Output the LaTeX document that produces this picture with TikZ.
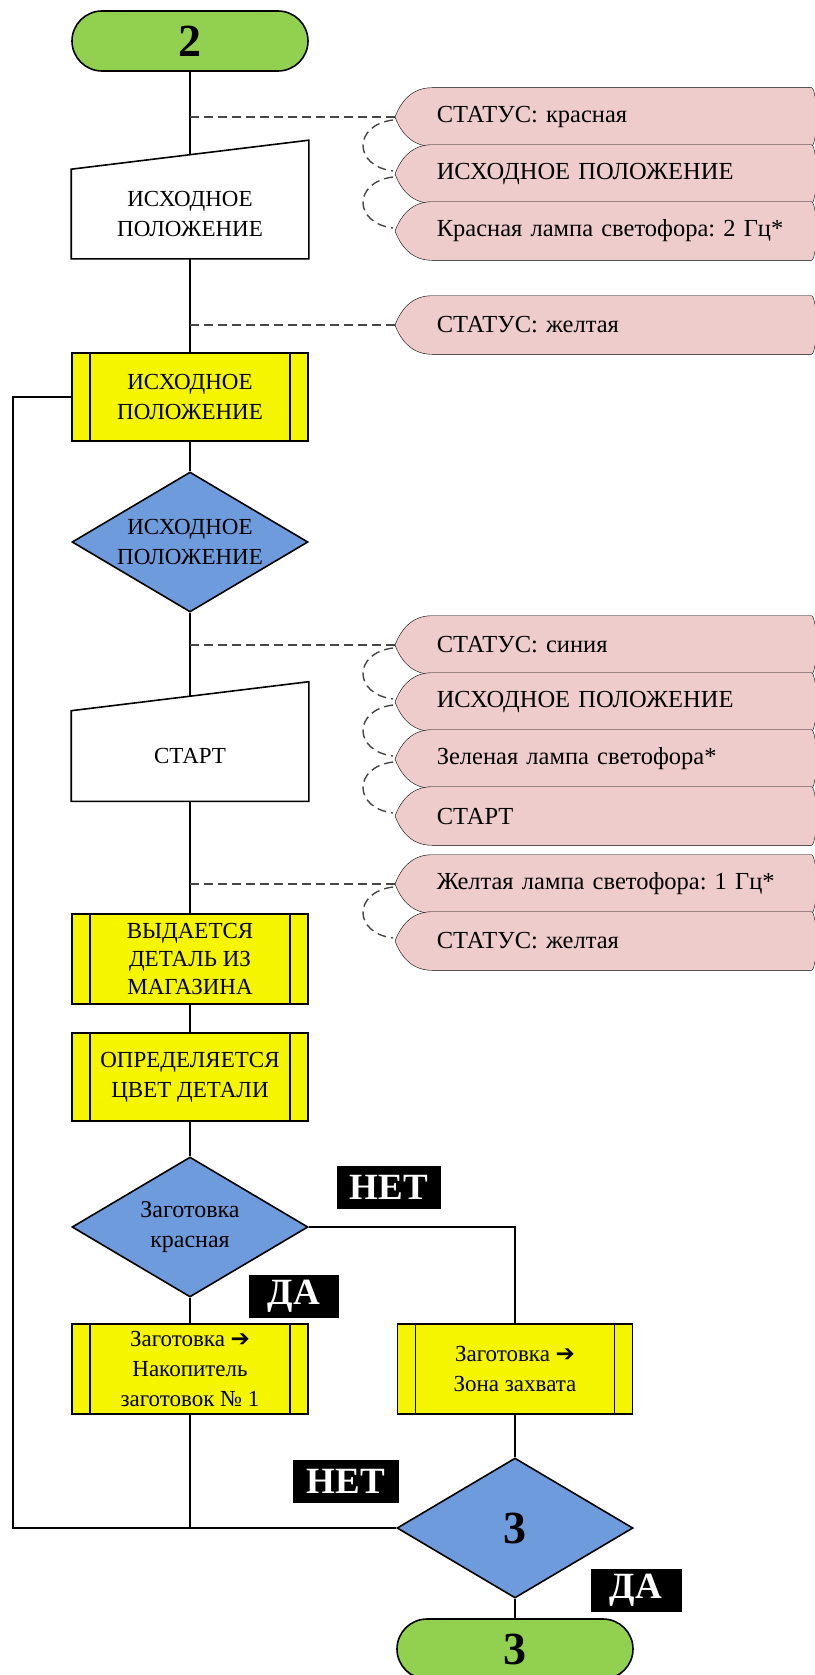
\documentclass[tikz,border=0pt]{standalone}
\usepackage{fontspec}
\setmainfont{Liberation Serif}
\newfontfamily\arrowfont{DejaVu Sans}
\usetikzlibrary{shapes.geometric, backgrounds}
\frenchspacing

\definecolor{termgreen}{RGB}{146,208,80}
\definecolor{procyellow}{RGB}{245,245,0}
\definecolor{decblue}{RGB}{110,155,220}
\definecolor{disppink}{RGB}{237,204,203}
\definecolor{linegray}{RGB}{70,70,70}

\begin{document}
\begin{tikzpicture}[
    x=1pt, y=-1pt,
    line width=1.6pt,
    font=\fontsize{23}{30}\selectfont,
    term/.style={draw, fill=termgreen, rounded corners=30pt, minimum width=236pt, minimum height=60pt, inner sep=0pt, font=\fontsize{46}{46}\selectfont\bfseries},
    manual/.style={minimum width=236pt, inner sep=0pt, align=center},
    proc/.style={draw, fill=procyellow, minimum width=236pt, minimum height=88pt, inner sep=0pt, align=center,
        path picture={\draw ([xshift=18pt]path picture bounding box.north west) -- ([xshift=18pt]path picture bounding box.south west)
            ([xshift=-18pt]path picture bounding box.north east) -- ([xshift=-18pt]path picture bounding box.south east);}},
    dec/.style={draw, fill=decblue, diamond, minimum width=236pt, minimum height=140pt, inner sep=0pt},
    disp/.style={anchor=west, minimum height=57pt, text width=370pt, inner xsep=4pt, inner ysep=0pt, align=left, font=\fontsize{24.5}{30}\selectfont},
    dispfill/.style={draw, fill=disppink},
    tag/.style={fill=black, text=white, font=\fontsize{37}{37}\selectfont\bfseries, inner sep=0pt, minimum height=43pt},
    flow/.style={line width=1.6pt},
    note/.style={line width=1.4pt, linegray, dash pattern=on 9pt off 5pt},
]

\useasboundingbox (0,0) rectangle (814,1675);

% Main column
\node[term] (t2) at (190,41) {2};
\coordinate (b1) at (190,117);
\node[manual, minimum height=88pt] (m1) at (190,214) {ИСХОДНОЕ\\ПОЛОЖЕНИЕ};
\coordinate (b2) at (190,325);
\node[proc] (p1) at (190,397) {ИСХОДНОЕ\\ПОЛОЖЕНИЕ};
\node[dec] (d1) at (190,542) {};
\node[align=center] (d1t) at (d1) {ИСХОДНОЕ\\ПОЛОЖЕНИЕ};
\coordinate (b3) at (190,645);
\node[manual, minimum height=89pt] (m2) at (190,756) {СТАРТ};
\coordinate (b4) at (190,884);
\node[proc, minimum height=90pt, font=\fontsize{23}{28}\selectfont] (p2) at (190,959) {ВЫДАЕТСЯ\\ДЕТАЛЬ ИЗ\\МАГАЗИНА};
\node[proc] (p3) at (190,1077) {ОПРЕДЕЛЯЕТСЯ\\ЦВЕТ ДЕТАЛИ};
\node[dec] (d2) at (190,1227) {};
\node[align=center, font=\fontsize{24}{30}\selectfont] (d2t) at (d2) {Заготовка\\красная};
\node[proc, minimum height=90pt] (p4) at (190,1369) {Заготовка {\arrowfont\bfseries ➔}\\Накопитель\\заготовок №~1};

% Right column
\node[proc, minimum width=235pt, minimum height=90pt] (p5) at (515,1369) {Заготовка {\arrowfont\bfseries ➔}\\Зона захвата};
\node[dec] (d3) at (515,1528) {};
\node[font=\fontsize{46}{46}\selectfont\bfseries] (d3t) at (d3) {3};
\node[term] (t3) at (515,1649) {3};
\coordinate (back) at (13,1528);

% Branch labels
\node[tag, minimum width=104pt] (no1) at (389,1187) {НЕТ};
\node[tag, minimum width=90pt] (yes1) at (294,1296) {ДА};
\node[tag, minimum width=106pt] (no2) at (346,1481) {НЕТ};
\node[tag, minimum width=91pt] (yes2) at (636,1590) {ДА};

% Signals
\node[disp] (c1) at (432,117) {СТАТУС: красная};
\node[disp] (c2) at (432,174) {ИСХОДНОЕ ПОЛОЖЕНИЕ};
\node[disp] (c3) at (432,231) {Красная лампа светофора: 2 Гц*};
\node[disp] (c4) at (432,325) {СТАТУС: желтая};
\node[disp] (c5) at (432,645) {СТАТУС: синия};
\node[disp] (c6) at (432,702) {ИСХОДНОЕ ПОЛОЖЕНИЕ};
\node[disp] (c7) at (432,759) {Зеленая лампа светофора*};
\node[disp] (c8) at (432,816) {СТАРТ};
\node[disp] (c9) at (432,884) {Желтая лампа светофора: 1 Гц*};
\node[disp] (c10) at (432,941) {СТАТУС: желтая};

\begin{scope}[on background layer]
% Flow lines
\draw[flow] (t2) -- (m1) -- (p1) -- (d1) -- (m2) -- (p2) -- (p3) -- (d2) -- (p4);
\draw[flow] (d2.east) -| (p5.north);
\draw[flow] (p5) -- (d3) -- (t3);
\draw[flow] (p4.south) -- (p4.south |- d3.west);
\draw[flow] (d3.west) -- (back) |- (p1.west);

% Dashed links
\draw[note] (b1) -- ([xshift=-37pt]c1.west);
\draw[note] (b2) -- ([xshift=-37pt]c4.west);
\draw[note] (b3) -- ([xshift=-37pt]c5.west);
\draw[note] (b4) -- ([xshift=-37pt]c9.west);
\draw[note] ([xshift=-39pt,yshift=-3pt]c1.west) .. controls +(-40,5) and +(-40,-5) .. ([xshift=-39pt,yshift=3pt]c2.west);
\draw[note] ([xshift=-39pt,yshift=-3pt]c2.west) .. controls +(-40,5) and +(-40,-5) .. ([xshift=-39pt,yshift=3pt]c3.west);
\draw[note] ([xshift=-39pt,yshift=-3pt]c5.west) .. controls +(-40,5) and +(-40,-5) .. ([xshift=-39pt,yshift=3pt]c6.west);
\draw[note] ([xshift=-39pt,yshift=-3pt]c6.west) .. controls +(-40,5) and +(-40,-5) .. ([xshift=-39pt,yshift=3pt]c7.west);
\draw[note] ([xshift=-39pt,yshift=-3pt]c7.west) .. controls +(-40,5) and +(-40,-5) .. ([xshift=-39pt,yshift=3pt]c8.west);
\draw[note] ([xshift=-39pt,yshift=-3pt]c9.west) .. controls +(-40,5) and +(-40,-5) .. ([xshift=-39pt,yshift=3pt]c10.west);

% Manual input shapes
\draw[flow, fill=white] (m1.south west) -- (m1.north west) -- ([yshift=29pt]m1.north east) -- (m1.south east) -- cycle;
\draw[flow, fill=white] (m2.south west) -- (m2.north west) -- ([yshift=29pt]m2.north east) -- (m2.south east) -- cycle;

% Signal shapes
\draw[dispfill] (c1.north west) .. controls +(-22,0) and +(5,-13) .. ([xshift=-37pt]c1.west) .. controls +(5,13) and +(-22,0) .. (c1.south west) -- (c1.south east) .. controls +(3,0) and +(-1,10) .. ([xshift=6pt]c1.east) .. controls +(-1,-10) and +(3,0) .. (c1.north east) -- cycle;
\draw[dispfill] (c2.north west) .. controls +(-22,0) and +(5,-13) .. ([xshift=-37pt]c2.west) .. controls +(5,13) and +(-22,0) .. (c2.south west) -- (c2.south east) .. controls +(3,0) and +(-1,10) .. ([xshift=6pt]c2.east) .. controls +(-1,-10) and +(3,0) .. (c2.north east) -- cycle;
\draw[dispfill] (c3.north west) .. controls +(-22,0) and +(5,-13) .. ([xshift=-37pt]c3.west) .. controls +(5,13) and +(-22,0) .. (c3.south west) -- (c3.south east) .. controls +(3,0) and +(-1,10) .. ([xshift=6pt]c3.east) .. controls +(-1,-10) and +(3,0) .. (c3.north east) -- cycle;
\draw[dispfill] (c4.north west) .. controls +(-22,0) and +(5,-13) .. ([xshift=-37pt]c4.west) .. controls +(5,13) and +(-22,0) .. (c4.south west) -- (c4.south east) .. controls +(3,0) and +(-1,10) .. ([xshift=6pt]c4.east) .. controls +(-1,-10) and +(3,0) .. (c4.north east) -- cycle;
\draw[dispfill] (c5.north west) .. controls +(-22,0) and +(5,-13) .. ([xshift=-37pt]c5.west) .. controls +(5,13) and +(-22,0) .. (c5.south west) -- (c5.south east) .. controls +(3,0) and +(-1,10) .. ([xshift=6pt]c5.east) .. controls +(-1,-10) and +(3,0) .. (c5.north east) -- cycle;
\draw[dispfill] (c6.north west) .. controls +(-22,0) and +(5,-13) .. ([xshift=-37pt]c6.west) .. controls +(5,13) and +(-22,0) .. (c6.south west) -- (c6.south east) .. controls +(3,0) and +(-1,10) .. ([xshift=6pt]c6.east) .. controls +(-1,-10) and +(3,0) .. (c6.north east) -- cycle;
\draw[dispfill] (c7.north west) .. controls +(-22,0) and +(5,-13) .. ([xshift=-37pt]c7.west) .. controls +(5,13) and +(-22,0) .. (c7.south west) -- (c7.south east) .. controls +(3,0) and +(-1,10) .. ([xshift=6pt]c7.east) .. controls +(-1,-10) and +(3,0) .. (c7.north east) -- cycle;
\draw[dispfill] (c8.north west) .. controls +(-22,0) and +(5,-13) .. ([xshift=-37pt]c8.west) .. controls +(5,13) and +(-22,0) .. (c8.south west) -- (c8.south east) .. controls +(3,0) and +(-1,10) .. ([xshift=6pt]c8.east) .. controls +(-1,-10) and +(3,0) .. (c8.north east) -- cycle;
\draw[dispfill] (c9.north west) .. controls +(-22,0) and +(5,-13) .. ([xshift=-37pt]c9.west) .. controls +(5,13) and +(-22,0) .. (c9.south west) -- (c9.south east) .. controls +(3,0) and +(-1,10) .. ([xshift=6pt]c9.east) .. controls +(-1,-10) and +(3,0) .. (c9.north east) -- cycle;
\draw[dispfill] (c10.north west) .. controls +(-22,0) and +(5,-13) .. ([xshift=-37pt]c10.west) .. controls +(5,13) and +(-22,0) .. (c10.south west) -- (c10.south east) .. controls +(3,0) and +(-1,10) .. ([xshift=6pt]c10.east) .. controls +(-1,-10) and +(3,0) .. (c10.north east) -- cycle;
\end{scope}

\end{tikzpicture}
\end{document}
